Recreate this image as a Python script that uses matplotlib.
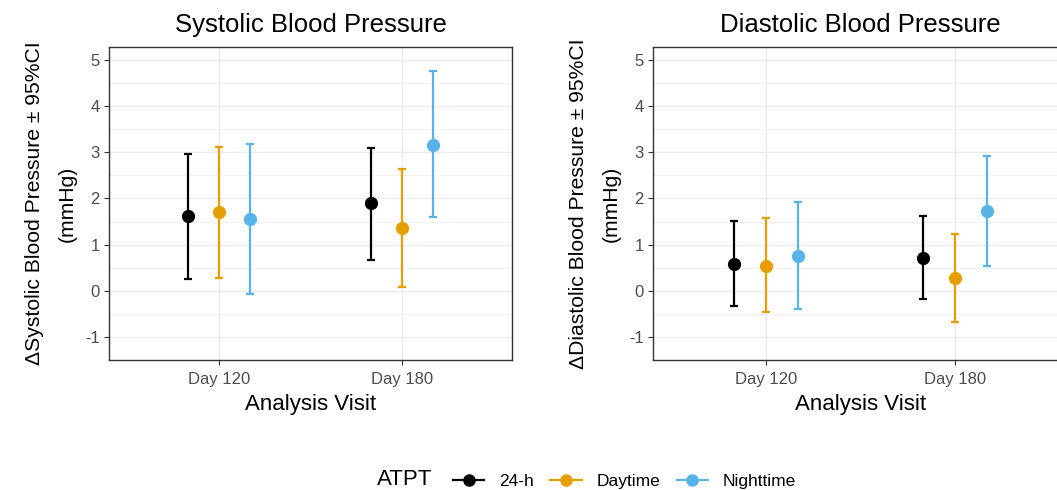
import numpy as np
import matplotlib.pyplot as plt
from matplotlib.lines import Line2D

plt.rcParams['font.family'] = ['Liberation Sans', 'DejaVu Sans']
plt.rcParams['axes.unicode_minus'] = False

# ── Data ──────────────────────────────────────────────────────────────────────
visits = ["Day 120", "Day 180"]
groups = ["24-h", "Daytime", "Nighttime"]
colors = ["#000000", "#E69F00", "#56B4E9"]

sys_est = [[1.62, 1.89], [1.71, 1.35], [1.56, 3.16]]
sys_lo = [[0.26, 0.66], [0.28, 0.09], [-0.06, 1.60]]
sys_hi = [[2.97, 3.10], [3.12, 2.63], [3.18, 4.75]]

dia_est = [[0.58, 0.72], [0.54, 0.27], [0.76, 1.73]]
dia_lo = [[-0.34, -0.18], [-0.47, -0.67], [-0.39, 0.54]]
dia_hi = [[1.52, 1.61], [1.57, 1.23], [1.92, 2.92]]

# ── Figure ────────────────────────────────────────────────────────────────────
fig = plt.figure(figsize=(10.57, 4.90), dpi=100)
ax_l = fig.add_axes([0.1031, 0.2653, 0.3813, 0.6388])
ax_r = fig.add_axes([0.6178, 0.2653, 0.3928, 0.6388])

dodge = [-0.17, 0.0, 0.17]


def panel(ax, est, lo, hi, title, ylabel):
    x = np.arange(1, len(visits) + 1)
    for i in range(len(groups)):
        e = np.array(est[i])
        yerr = [e - np.array(lo[i]), np.array(hi[i]) - e]
        ax.errorbar(x + dodge[i], e, yerr=yerr, fmt="o", color=colors[i],
                    ms=8.5, elinewidth=1.6, capsize=2.6, capthick=1.6, zorder=3)
    ax.set_xlim(0.4, 2.6)
    ax.set_ylim(-1.3, 5.28)
    ax.set_xticks(x)
    ax.set_xticklabels(visits)
    ax.set_yticks(range(-1, 6))
    ax.set_yticks(np.arange(-1.5, 5.5, 1.0), minor=True)
    ax.grid(which="major", color="#EBEBEB", lw=1.0, zorder=0)
    ax.grid(which="minor", axis="y", color="#EBEBEB", lw=0.5, zorder=0)
    ax.set_axisbelow(True)
    ax.tick_params(which="major", length=3.5, color="#333333", labelsize=12,
                   labelcolor="#4D4D4D", pad=3)
    ax.tick_params(axis="x", pad=5)
    ax.tick_params(which="minor", length=0)
    for s in ax.spines.values():
        s.set_color("#333333")
        s.set_linewidth(1.0)
    ax.set_title(title, fontsize=18.5, pad=11)
    ax.set_xlabel("Analysis Visit", fontsize=16, labelpad=5)
    ax.set_ylabel(ylabel, fontsize=15.2, labelpad=6, linespacing=1.95)


panel(ax_l, sys_est, sys_lo, sys_hi, "Systolic Blood Pressure",
      "\u0394Systolic Blood Pressure \u00b1 95%CI\n(mmHg)")
panel(ax_r, dia_est, dia_lo, dia_hi, "Diastolic Blood Pressure",
      "\u0394Diastolic Blood Pressure \u00b1 95%CI\n(mmHg)")

# legend at bottom
handles = [Line2D([0], [0], color=c, marker="o", ms=8, lw=1.6) for c in colors]
fig.text(0.357, 0.0, "ATPT", fontsize=16, va="bottom")
fig.legend(handles, groups, loc="lower left", bbox_to_anchor=(0.414, -0.029),
           ncol=3, frameon=False, fontsize=12.5, handlelength=1.8,
           columnspacing=0.95, handletextpad=0.85)

fig.savefig("out.png", dpi=100)
